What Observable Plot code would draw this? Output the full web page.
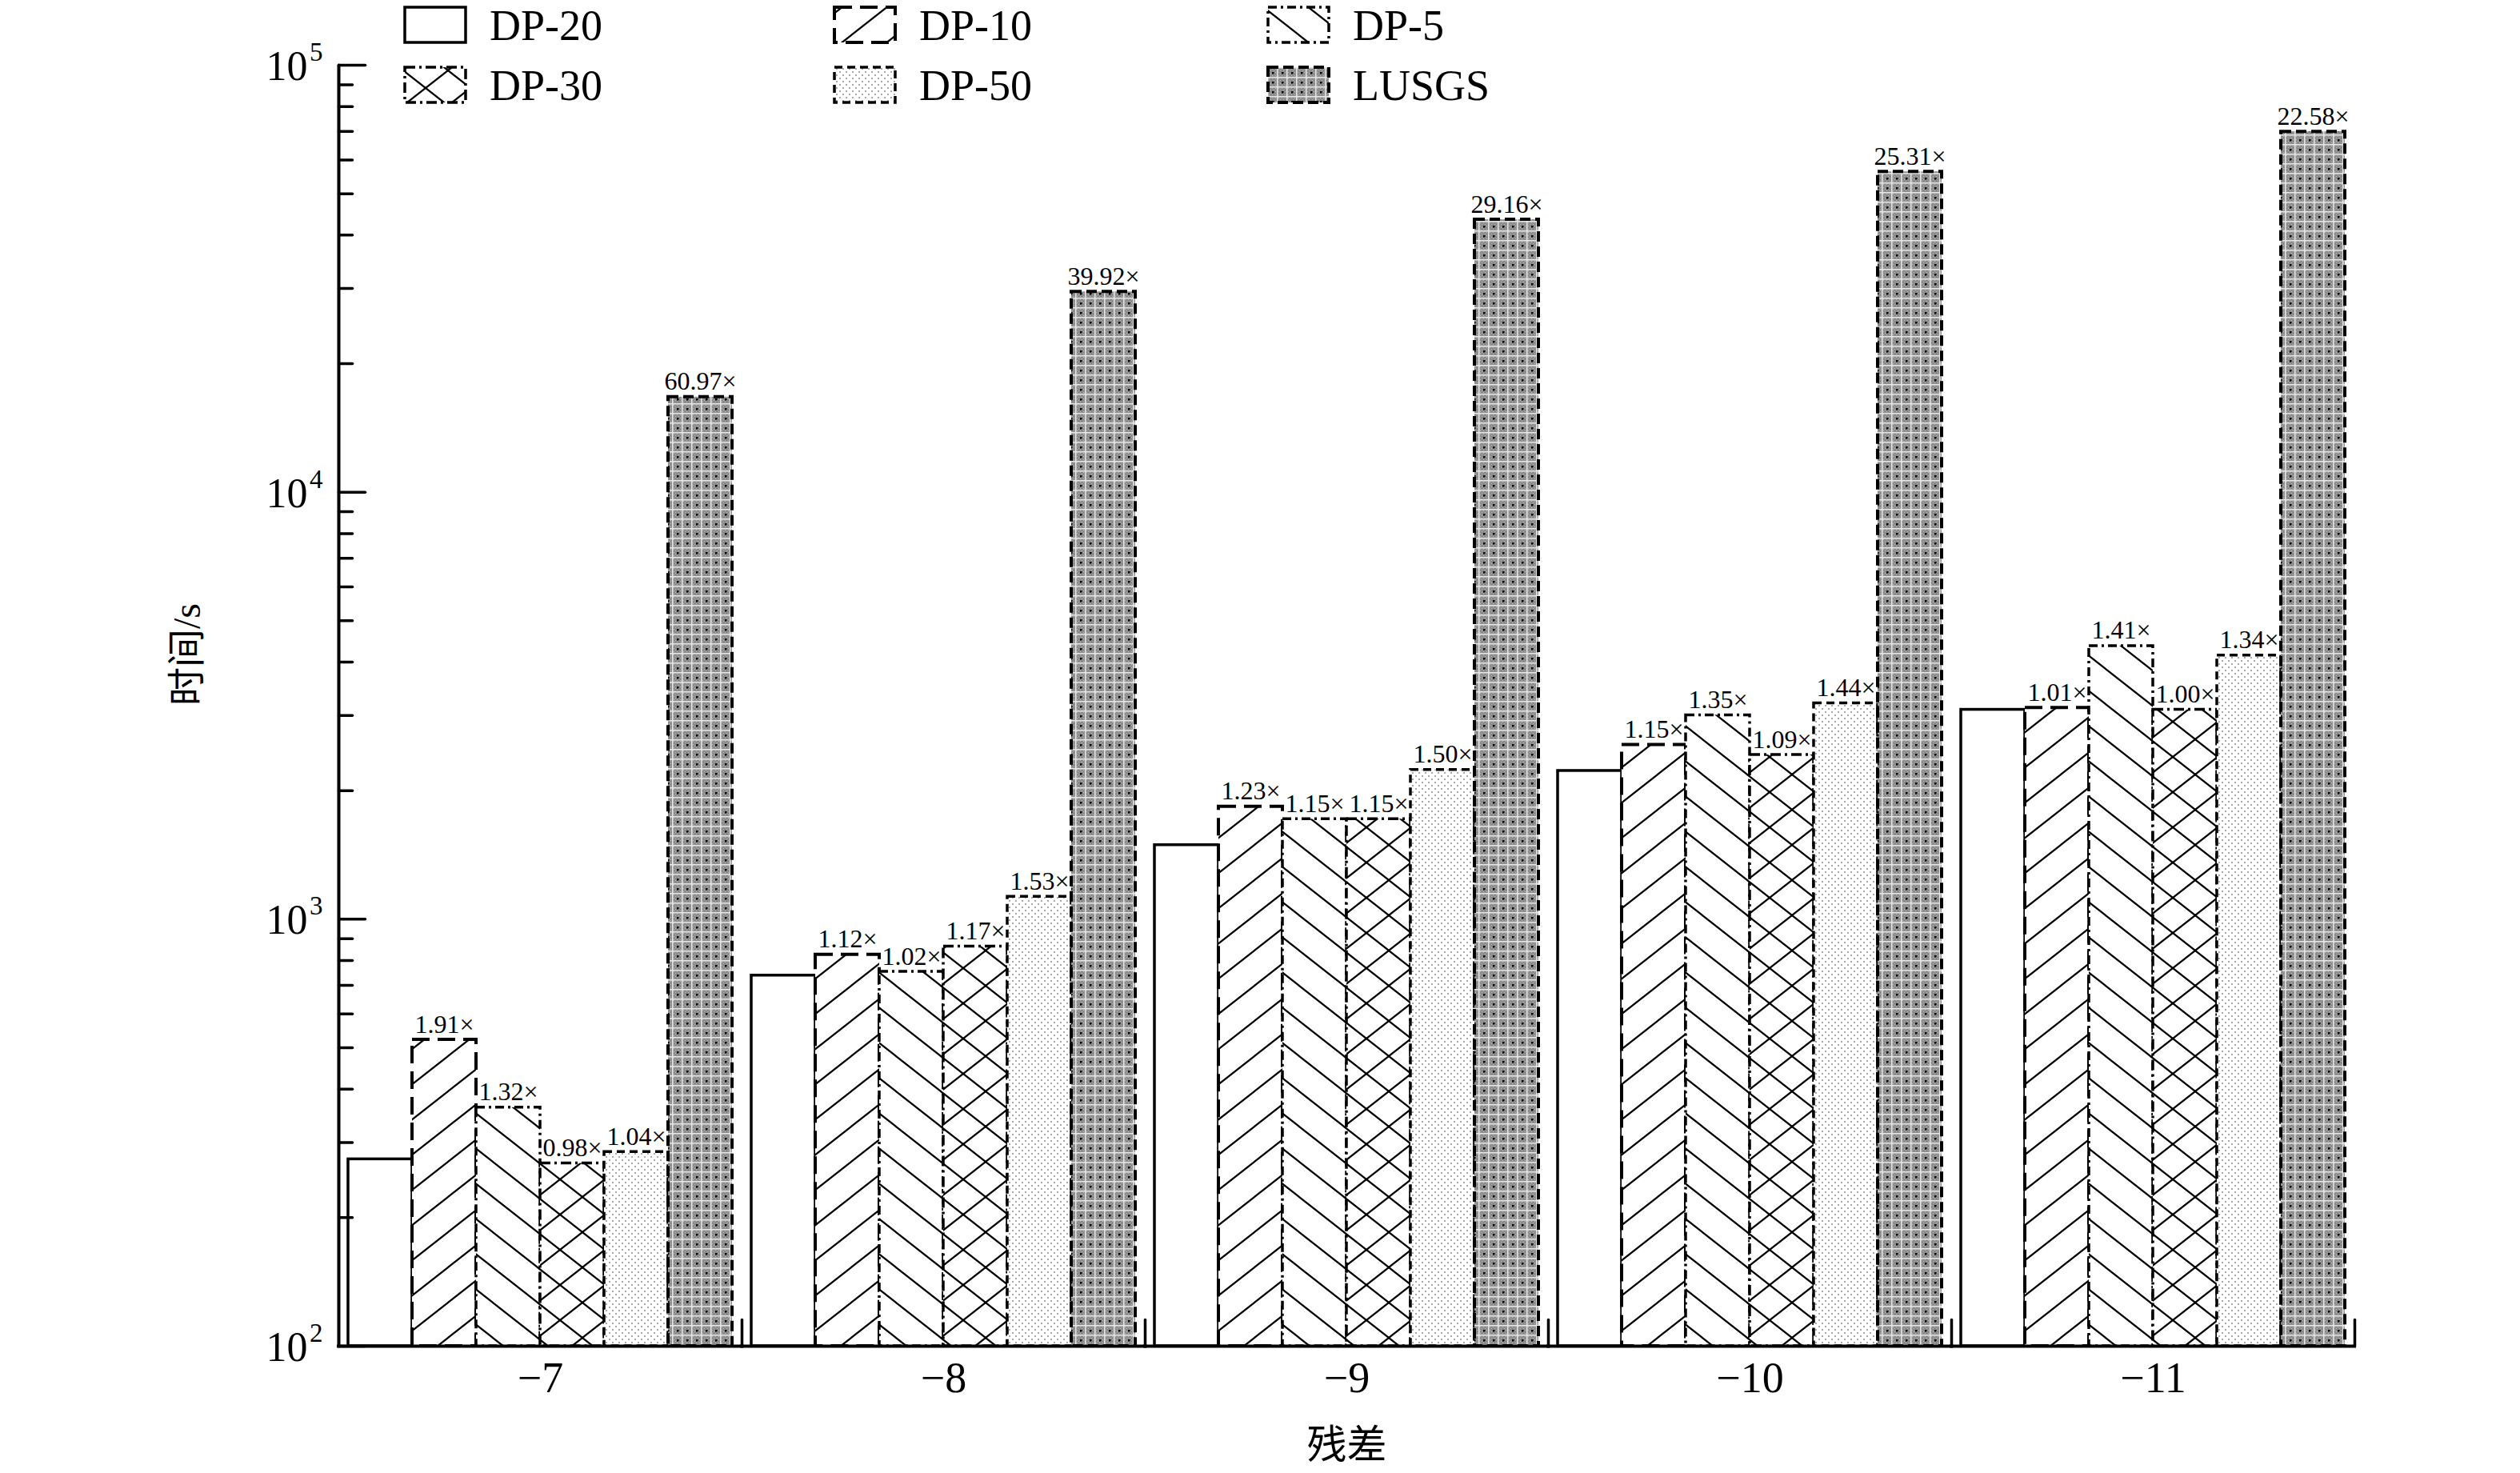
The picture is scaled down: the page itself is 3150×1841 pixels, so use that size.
<!DOCTYPE html>
<html>
<head>
<meta charset="utf-8">
<script src="https://cdn.jsdelivr.net/npm/d3@7"></script>
<script src="https://cdn.jsdelivr.net/npm/@observablehq/plot@0.6"></script>
<style>
  body { margin: 0; background: #fff; }
  #wrap { position: relative; width: 3150px; height: 1841px; }
  #legend { position: absolute; left: 0; top: 0; }
</style>
</head>
<body>
<div id="wrap"></div>
<script>
// ---------- data ----------
const categories = ["−7", "−8", "−9", "−10", "−11"];
const seriesNames = ["DP-20", "DP-10", "DP-5", "DP-30", "DP-50", "LUSGS"];

const dp20  = [274, 738, 1491, 2225, 3094];
const dp10  = [522, 826, 1834, 2559, 3125];
const dp5   = [362, 753, 1715, 3004, 4363];
const dp30  = [268, 863, 1715, 2425, 3094];
const dp50  = [285, 1129, 2237, 3204, 4146];
const lusgs = [16700, 29460, 43480, 56300, 69860];

const dp20Labels  = ["", "", "", "", ""];
const dp10Labels  = ["1.91×", "1.12×", "1.23×", "1.15×", "1.01×"];
const dp5Labels   = ["1.32×", "1.02×", "1.15×", "1.35×", "1.41×"];
const dp30Labels  = ["0.98×", "1.17×", "1.15×", "1.09×", "1.00×"];
const dp50Labels  = ["1.04×", "1.53×", "1.50×", "1.44×", "1.34×"];
const lusgsLabels = ["60.97×", "39.92×", "29.16×", "25.31×", "22.58×"];

const yMajorTicks = [100, 1000, 10000, 100000];
const yTickBase = ["10", "10", "10", "10"];
const yTickExp = ["2", "3", "4", "5"];
const yMinorTicks = [200, 300, 400, 500, 600, 700, 800, 900,
                     2000, 3000, 4000, 5000, 6000, 7000, 8000, 9000,
                     20000, 30000, 40000, 50000, 60000, 70000, 80000, 90000];
const yTitle = "时间/s";
const xTitle = "残差";

// ---------- table ----------
const seriesValues = [dp20, dp10, dp5, dp30, dp50, lusgs];
const seriesLabels = [dp20Labels, dp10Labels, dp5Labels, dp30Labels, dp50Labels, lusgsLabels];
const table = [];
categories.forEach((c, i) => {
  seriesNames.forEach((s, j) => {
    table.push({category: c, series: s, value: seriesValues[j][i], label: seriesLabels[j][i]});
  });
});

// ---------- styles ----------
const W = 3150, H = 1841;
const M = {top: 81, right: 207, bottom: 159, left: 423};
const plotH = H - M.top - M.bottom;
const serif = "'Liberation Serif', 'Times New Roman', 'DejaVu Serif', serif";
const cjk = "'Liberation Serif', 'Noto Sans CJK SC', serif";

const styles = {
  "DP-20": {fill: "white", dash: null, sw: 3.5},
  "DP-10": {fill: "url(#hFwd)", dash: "22,10", sw: 4},
  "DP-5":  {fill: "url(#hBack)", dash: "11,5,3,5", sw: 3.5},
  "DP-30": {fill: "url(#hCross)", dash: "13,5,3,5", sw: 3.5},
  "DP-50": {fill: "url(#dots)", dash: "10,6", sw: 3.5},
  "LUSGS": {fill: "url(#dark)", dash: "13,6", sw: 4}
};

// ---------- pattern defs ----------
const defsSvg = d3.select("body").append("svg")
  .attr("width", 0).attr("height", 0)
  .style("position", "absolute").style("left", 0).style("top", 0);
const defs = defsSvg.append("defs");
function hatch(id, paths) {
  const p = defs.append("pattern").attr("id", id)
    .attr("patternUnits", "userSpaceOnUse").attr("width", 56).attr("height", 44);
  p.append("rect").attr("width", 56).attr("height", 44).attr("fill", "white");
  paths.forEach(d => p.append("path").attr("d", d)
    .attr("stroke", "black").attr("stroke-width", 2.2).attr("fill", "none"));
}
const fwd = ["M0,44L56,0", "M-56,44L56,-44", "M0,88L112,0"];
const back = ["M0,0L56,44", "M-56,0L56,88", "M0,-44L112,44"];
hatch("hFwd", fwd);
hatch("hBack", back);
hatch("hCross", fwd.concat(back));
{
  const p = defs.append("pattern").attr("id", "dots")
    .attr("patternUnits", "userSpaceOnUse").attr("width", 8).attr("height", 8);
  p.append("rect").attr("width", 8).attr("height", 8).attr("fill", "white");
  p.append("rect").attr("x", 1).attr("y", 1).attr("width", 2).attr("height", 2).attr("fill", "#a8a8a8");
  p.append("rect").attr("x", 5).attr("y", 5).attr("width", 2).attr("height", 2).attr("fill", "#a8a8a8");
}
{
  const p = defs.append("pattern").attr("id", "dark")
    .attr("patternUnits", "userSpaceOnUse").attr("width", 12).attr("height", 12);
  p.append("rect").attr("width", 12).attr("height", 12).attr("fill", "#8c8c8c");
  for (let i = 0; i < 12; i += 2) for (let j = 0; j < 12; j += 2) {
    if (((i + j) / 2) % 2 === 0) p.append("rect").attr("x", i).attr("y", j).attr("width", 1).attr("height", 1).attr("fill", "#b8b8b8");
  }
  p.append("rect").attr("x", 0).attr("y", 0).attr("width", 12).attr("height", 1.5).attr("fill", "#e8e8e8");
  p.append("rect").attr("x", 0).attr("y", 0).attr("width", 1.5).attr("height", 12).attr("fill", "#e8e8e8");
  p.append("rect").attr("x", 6).attr("y", 6).attr("width", 2.5).attr("height", 2.5).attr("fill", "black");
}

// ---------- chart ----------
const lineShape = {draw(context, l) { context.moveTo(0, 0); context.lineTo(0, -l); }};
const firstFacet = () => categories[0];
const middleFacet = () => categories[2];

const marks = [];
seriesNames.forEach(s => {
  const st = styles[s];
  marks.push(Plot.rectY(table.filter(d => d.series === s), {
    fx: "category", x: "series", y1: () => yMajorTicks[0], y2: "value",
    fill: st.fill, stroke: "black", strokeWidth: st.sw,
    strokeDasharray: st.dash
  }));
});
seriesNames.slice(1).forEach(s => {
  marks.push(Plot.text(table.filter(d => d.series === s), {
    fx: "category", x: "series", y: "value", text: "label",
    lineAnchor: "bottom", dy: -9, fontSize: 32, fontFamily: serif, fill: "black"
  }));
});

// x axis line and group-boundary ticks
marks.push(Plot.ruleY([yMajorTicks[0]], {stroke: "black", strokeWidth: 4, strokeLinecap: "square"}));
marks.push(Plot.vector(categories, {
  fx: d => d, frameAnchor: "bottom-right", length: 33, rotate: 0, anchor: "start",
  shape: lineShape, stroke: "black", strokeWidth: 3.5
}));
// y axis line
marks.push(Plot.vector([yMajorTicks[0]], {
  fx: firstFacet, frameAnchor: "bottom-left", length: plotH, rotate: 0, anchor: "start",
  shape: lineShape, stroke: "black", strokeWidth: 4
}));
// y major / minor ticks pointing inwards
marks.push(Plot.vector(yMajorTicks, {
  fx: firstFacet, y: d => d, frameAnchor: "left", length: 33, rotate: 90, anchor: "start",
  shape: lineShape, stroke: "black", strokeWidth: 3.5
}));
marks.push(Plot.vector(yMinorTicks, {
  fx: firstFacet, y: d => d, frameAnchor: "left", length: 17, rotate: 90, anchor: "start",
  shape: lineShape, stroke: "black", strokeWidth: 3.5
}));
// y tick labels 10^n
marks.push(Plot.text(yMajorTicks, {
  fx: firstFacet, y: d => d, frameAnchor: "left", text: (d, i) => yTickBase[i],
  textAnchor: "end", dx: -39, dy: 2, fontSize: 52, fontFamily: serif, fill: "black"
}));
marks.push(Plot.text(yMajorTicks, {
  fx: firstFacet, y: d => d, frameAnchor: "left", text: (d, i) => yTickExp[i],
  textAnchor: "end", dx: -20, dy: -16, fontSize: 33, fontFamily: serif, fill: "black"
}));
// x tick labels
marks.push(Plot.text(categories, {
  fx: d => d, frameAnchor: "bottom", text: d => d, dy: 40, lineAnchor: "middle",
  fontSize: 54, fontFamily: serif, fill: "black"
}));
// axis titles
marks.push(Plot.text([yTitle], {
  fx: firstFacet, frameAnchor: "left", text: d => d, dx: -189, rotate: -90,
  lineAnchor: "middle", fontSize: 48, fontFamily: cjk, fill: "black"
}));
marks.push(Plot.text([xTitle], {
  fx: middleFacet, frameAnchor: "bottom", text: d => d, dy: 124, lineAnchor: "middle",
  fontSize: 50, fontFamily: cjk, fill: "black"
}));

const chart = Plot.plot({
  width: W, height: H,
  marginTop: M.top, marginRight: M.right, marginBottom: M.bottom, marginLeft: M.left,
  style: {fontFamily: serif, fontSize: "40px", background: "white", overflow: "visible"},
  fx: {domain: categories, padding: 0, axis: null, label: null},
  x: {domain: seriesNames, paddingInner: 0, paddingOuter: 0.15, axis: null, label: null},
  y: {type: "log", domain: [yMajorTicks[0], yMajorTicks[yMajorTicks.length - 1]], axis: null, label: null},
  marks
});
document.getElementById("wrap").appendChild(chart);

// ---------- legend ----------
const legendCols = [506, 1043, 1585];
const legendRows = [9, 84];
const sw = 76, sh = 44;
const legend = d3.select("#wrap").append("svg").attr("id", "legend")
  .attr("width", W).attr("height", 140);
seriesNames.forEach((s, k) => {
  const col = k % 3, row = Math.floor(k / 3);
  const x = legendCols[col], y = legendRows[row];
  const st = styles[s];
  legend.append("rect").attr("x", x).attr("y", y).attr("width", sw).attr("height", sh)
    .attr("fill", st.fill).attr("stroke", "black").attr("stroke-width", st.sw)
    .attr("stroke-dasharray", st.dash);
  legend.append("text").attr("x", x + sw + 30).attr("y", y + sh / 2).attr("dy", "0.35em")
    .attr("font-family", serif).attr("font-size", 54).attr("fill", "black").text(s);
});
</script>
</body>
</html>
